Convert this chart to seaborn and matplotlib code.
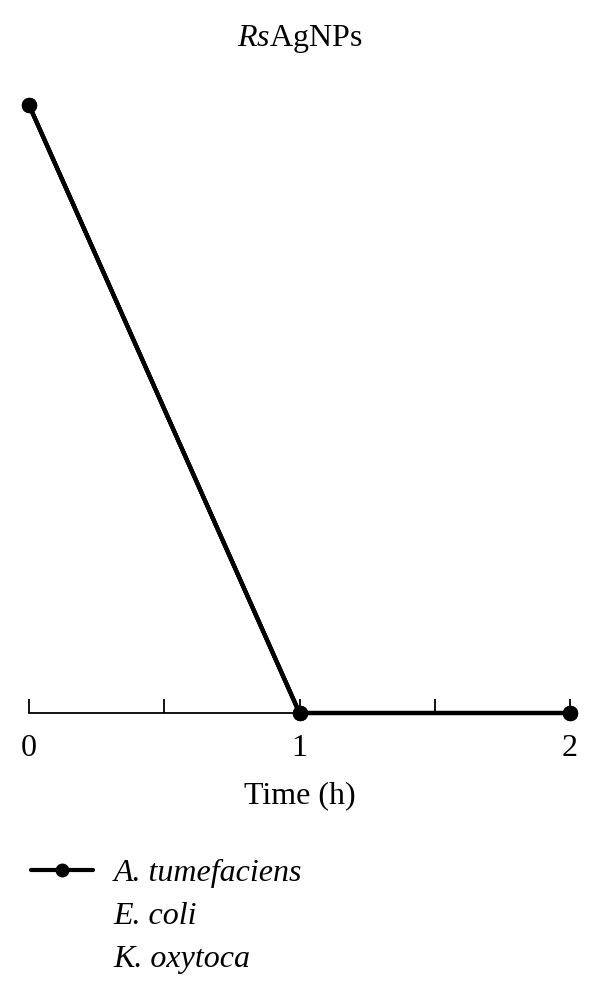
import matplotlib
matplotlib.use("Agg")
import matplotlib.pyplot as plt
import seaborn as sns
import pandas as pd
from matplotlib.lines import Line2D

sns.set_theme(style="white")
plt.rcParams['font.family'] = ['Liberation Serif', 'DejaVu Serif']
plt.rcParams['mathtext.fontset'] = 'custom'
plt.rcParams['mathtext.rm'] = 'Liberation Serif'
plt.rcParams['mathtext.it'] = 'Liberation Serif:italic'
plt.rcParams['text.color'] = 'black'
plt.rcParams['axes.labelcolor'] = 'black'
plt.rcParams['xtick.color'] = 'black'

time_h = [0, 1, 2]
a_tumefaciens = [100, 0, 0]
e_coli = [100, 0, 0]
k_oxytoca = [100, 0, 0]
series_names = ["A. tumefaciens", "E. coli", "K. oxytoca"]
xticks = [0, 1, 2]
minor_xticks = [0.5, 1.5]

df = pd.DataFrame({
    "time": time_h * 3,
    "value": a_tumefaciens + e_coli + k_oxytoca,
    "series": [series_names[0]] * 3 + [series_names[1]] * 3 + [series_names[2]] * 3,
})

fig = plt.figure(figsize=(6, 9.98), dpi=100)
ax = fig.add_axes([29 / 600, (998 - 713) / 998, (570 - 29) / 600, (713 - 105) / 998])

sns.lineplot(data=df, x="time", y="value", hue="series",
             palette=["black", "black", "black"], marker="o", markersize=11,
             markeredgewidth=0, linewidth=3, ax=ax, legend=False, clip_on=False)

ax.set_xlim(0, 2)
ax.set_ylim(0, 100)
for s in ["top", "right", "left"]:
    ax.spines[s].set_visible(False)
ax.spines["bottom"].set_linewidth(1.3)
ax.spines["bottom"].set_color("black")
ax.set_yticks([])
ax.set_xticks(xticks)
ax.set_xticklabels([str(t) for t in xticks])
ax.set_xticks(minor_xticks, minor=True)
ax.tick_params(axis="x", which="both", direction="in", length=10, width=1.3,
               color="black", labelcolor="black", labelsize=23, pad=15, bottom=True)
ax.set_xlabel("Time (h)", fontsize=23, labelpad=13, color="black")
ax.set_ylabel("")
fig.text(0.5, 1 - 39 / 998, r"$\mathit{Rs}\mathrm{AgNPs}$", ha="center", va="center",
         fontsize=23, color="black")

handles = [
    Line2D([], [], color="black", linewidth=3, marker="o", markersize=9),
    Line2D([], [], color="none", linewidth=3),
    Line2D([], [], color="none", linewidth=3),
]
leg = fig.legend(handles, series_names, loc="upper left",
                 bbox_to_anchor=(2 / 600, 1 - 830 / 998), frameon=False,
                 prop={"family": "Liberation Serif", "style": "italic", "size": 23},
                 handlelength=1.95, handletextpad=0.65, labelspacing=0.42)
for t in leg.get_texts():
    t.set_color("black")

fig.savefig("out.png", dpi=100)
